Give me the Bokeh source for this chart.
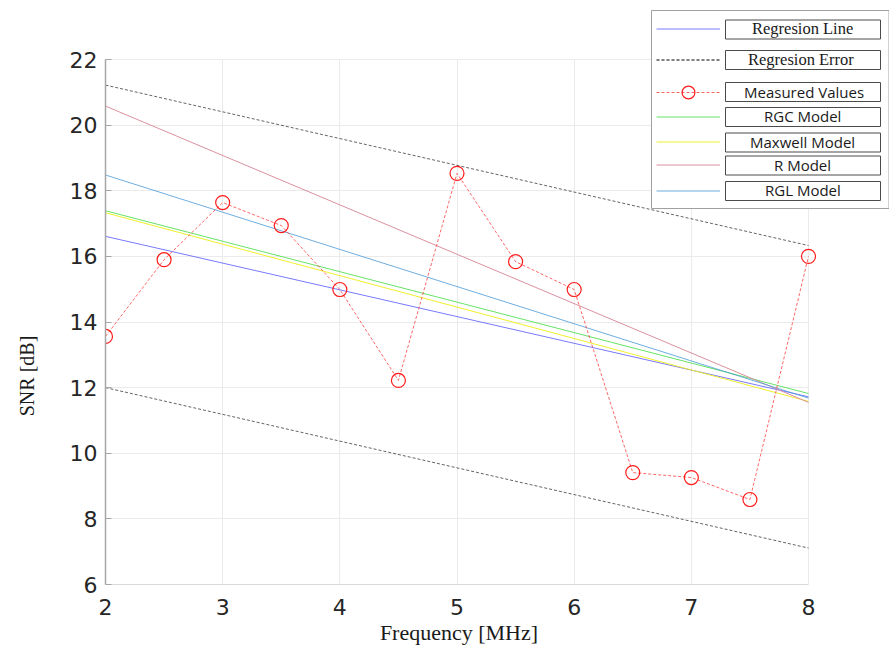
from bokeh.plotting import figure
from bokeh.models import Range1d, FixedTicker, Legend, LegendItem, BoxAnnotation
from bokeh.embed import file_html
from bokeh.resources import INLINE

# ---------------- data ----------------
freq = [2, 2.5, 3, 3.5, 4, 4.5, 5, 5.5, 6, 6.5, 7, 7.5, 8]
measured = [13.56, 15.9, 17.64, 16.94, 14.99, 12.22, 18.53, 15.84, 14.99, 9.41, 9.26, 8.59, 16.0]

line_freq = [2, 8]
regression_line = [16.61, 11.72]
regression_err_upper = [21.22, 16.33]
regression_err_lower = [12.0, 7.11]
rgc_model = [17.39, 11.82]
maxwell_model = [17.33, 11.58]
r_model = [20.58, 11.55]
rgl_model = [18.48, 11.68]

x_ticks = [2, 3, 4, 5, 6, 7, 8]
y_ticks = [6, 8, 10, 12, 14, 16, 18, 20, 22]
x_lim = (2, 8)
y_lim = (6, 22)

x_title = "Frequency [MHz]"
y_title = "SNR [dB]"
legend_labels = ["Regresion Line", "Regresion Error", "Measured Values",
                 "RGC Model", "Maxwell Model", "R Model", "RGL Model"]

# ---------------- geometry (pixels) ----------------
W, H = 889, 651
ax_left, ax_right, ax_top, ax_bottom = 105, 808, 59, 584   # plotted box
fr_right, fr_top = 889, 2                                  # frame extended for legend
px_per_x = (ax_right - ax_left) / (x_lim[1] - x_lim[0])
px_per_y = (ax_bottom - ax_top) / (y_lim[1] - y_lim[0])
x_end = x_lim[1] + (fr_right - ax_right) / px_per_x
y_end = y_lim[1] + (ax_top - fr_top) / px_per_y

p = figure(width=W, height=H, output_backend="svg", toolbar_location=None,
           x_range=Range1d(x_lim[0], x_end), y_range=Range1d(y_lim[0], y_end),
           min_border_left=ax_left, min_border_right=W - fr_right,
           min_border_top=fr_top, min_border_bottom=H - ax_bottom)
p.outline_line_color = None
p.background_fill_color = "white"
p.border_fill_color = "white"

p.xgrid.ticker = FixedTicker(ticks=x_ticks)
p.ygrid.ticker = FixedTicker(ticks=y_ticks)
p.xaxis.ticker = FixedTicker(ticks=x_ticks)
p.yaxis.ticker = FixedTicker(ticks=y_ticks)
for g in (p.xgrid, p.ygrid):
    g.grid_line_color = "#ebebeb"
    g.grid_line_width = 1
try:
    p.xgrid.cross_bounds = y_lim
    p.ygrid.cross_bounds = x_lim
except AttributeError:
    pass

# axis titles are centred on the (extended) frame; non-breaking spaces
# move them to where the original places them
nb = "\u00a0"

p.xaxis.bounds = x_lim
p.xaxis.axis_line_color = "#d9d9d9"
p.xaxis.major_tick_in = 0
p.xaxis.major_tick_out = 0
p.xaxis.minor_tick_line_color = None
p.xaxis.major_label_text_font = "DejaVu Sans"
p.xaxis.major_label_text_font_size = "22px"
p.xaxis.major_label_text_color = "#262626"
p.xaxis.major_label_standoff = 14
p.xaxis.axis_label = x_title + nb * 14
p.xaxis.axis_label_text_font = "Liberation Serif"
p.xaxis.axis_label_text_font_size = "22px"
p.xaxis.axis_label_text_font_style = "normal"
p.xaxis.axis_label_text_color = "#1a1a1a"
p.xaxis.axis_label_standoff = 2

p.yaxis.bounds = y_lim
p.yaxis.axis_line_color = "#a6a6a6"
p.yaxis.axis_line_width = 1.5
p.yaxis.major_tick_in = 6
p.yaxis.major_tick_out = 0
p.yaxis.major_tick_line_color = "#a6a6a6"
p.yaxis.minor_tick_line_color = None
p.yaxis.major_label_text_font = "DejaVu Sans"
p.yaxis.major_label_text_font_size = "22px"
p.yaxis.major_label_text_color = "#262626"
p.yaxis.major_label_standoff = 8
p.yaxis.axis_label = y_title + nb * 33
p.yaxis.axis_label_text_font = "Liberation Serif"
p.yaxis.axis_label_text_font_size = "20px"
p.yaxis.axis_label_text_font_style = "normal"
p.yaxis.axis_label_text_color = "#1a1a1a"
p.yaxis.axis_label_standoff = 29

# ---------------- glyphs ----------------
r_reg = p.line(line_freq, regression_line, line_color="#6a6aff", line_width=1, line_alpha=0.9)
r_err_u = p.line(line_freq, regression_err_upper, line_color="#303030", line_width=1,
                 line_alpha=0.75, line_dash="3 2")
r_err_l = p.line(line_freq, regression_err_lower, line_color="#303030", line_width=1,
                 line_alpha=0.75, line_dash="3 2")
r_rgc = p.line(line_freq, rgc_model, line_color="#55e055", line_width=1, line_alpha=0.9)
r_max = p.line(line_freq, maxwell_model, line_color="#eeee22", line_width=1, line_alpha=0.95)
r_r = p.line(line_freq, r_model, line_color="#d88a9a", line_width=1, line_alpha=0.95)
r_rgl = p.line(line_freq, rgl_model, line_color="#4a9ad8", line_width=1, line_alpha=0.8)
r_meas_l = p.line(freq, measured, line_color="#ff4040", line_width=1, line_alpha=0.8,
                  line_dash="3 2")
r_meas_s = p.scatter(freq, measured, marker="circle", size=14, fill_color=None,
                     line_color="#ff1a1a", line_width=1.2)

# ---------------- legend ----------------
p.add_layout(BoxAnnotation(left=651, right=888.5, top=10, bottom=208,
                           left_units="canvas", right_units="canvas",
                           top_units="canvas", bottom_units="canvas",
                           fill_color="white", fill_alpha=1.0,
                           line_color="#a0a0a0", line_alpha=1.0, line_width=1,
                           line_dash="solid"))

row_tops = [19.5, 50, 82, 107, 132.5, 155.5, 181]
row_height = 19
for top in row_tops:
    p.add_layout(BoxAnnotation(left=725, right=880, top=top, bottom=top + row_height,
                               left_units="canvas", right_units="canvas",
                               top_units="canvas", bottom_units="canvas",
                               fill_alpha=0.0, line_color="#4a4a4a", line_alpha=1.0,
                               line_width=1, line_dash="solid"))

item_renderers = [[r_reg], [r_err_u, r_err_l], [r_meas_l, r_meas_s],
                  [r_rgc], [r_max], [r_r], [r_rgl]]
row_centers = [29, 60, 91.5, 116.5, 142, 165, 190.5]
glyph_heights = [19, 19, 32, 19, 19, 19, 19]
text_widths = [102, 109, 118, 77, 106, 57, 75]
fonts = ["Liberation Serif", "Liberation Serif", "Open Sans", "Open Sans",
         "Open Sans", "Open Sans", "Open Sans"]
sizes = ["16.5px", "16.5px", "15px", "15px", "15px", "15px", "15px"]
glyph_left, glyph_w, box_center = 656, 64, 802.5
for lab, rends, cy, gh, tw, fnt, fs in zip(legend_labels, item_renderers, row_centers,
                                           glyph_heights, text_widths, fonts, sizes):
    leg = Legend(items=[LegendItem(label=lab, renderers=rends)],
                 location=(glyph_left - ax_left, ax_bottom - (cy + gh / 2)),
                 orientation="vertical", padding=0, margin=0, spacing=0,
                 glyph_width=glyph_w, glyph_height=gh, label_height=row_height,
                 label_standoff=int(round(box_center - tw / 2 - (glyph_left + glyph_w))),
                 background_fill_alpha=0, border_line_alpha=0,
                 label_text_font=fnt, label_text_font_size=fs,
                 label_text_color="#1a1a1a")
    p.add_layout(leg)

open("out.html", "w").write(file_html(p, INLINE))
